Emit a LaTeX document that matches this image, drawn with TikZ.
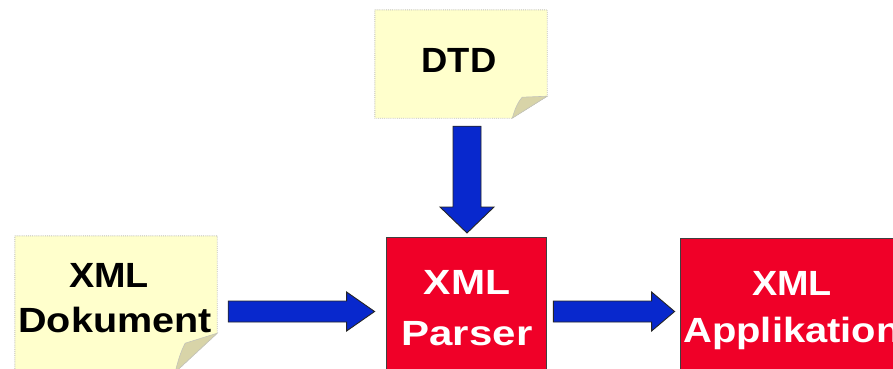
\documentclass[tikz,border=0pt]{standalone}
\usepackage{fontspec}
\setmainfont{Liberation Sans}
\usetikzlibrary{calc}

\definecolor{notefill}{RGB}{255,255,204}
\definecolor{notefold}{RGB}{216,212,168}
\definecolor{noteedge}{RGB}{195,195,185}
\definecolor{boxred}{RGB}{240,0,40}
\definecolor{arrowblue}{RGB}{8,40,205}

\tikzset{
  notebody/.style={fill=notefill, draw=noteedge, densely dotted, line width=0.9pt},
  notecurl/.style={fill=notefold, draw=noteedge, line width=0.6pt},
  redbox/.style={rectangle, fill=boxred, draw=black!75, line width=0.8pt, inner sep=0pt},
  blockarrowstyle/.style={fill=arrowblue, draw=black!85, line width=0.9pt, line join=miter},
  lbl/.style={inner sep=0pt, font=\fontsize{35}{40}\selectfont\bfseries},
  lblw/.style={lbl, text=white},
  anchorbox/.style={rectangle, inner sep=0pt, draw=none}
}

% block arrow: start, tip, half shaft width, half head width, head length
\newcommand{\blockarrow}[5]{%
  \coordinate (ba-h) at ($(#2)!#5!(#1)$);
  \filldraw[blockarrowstyle]
    ($(#1)!#3!90:(#2)$) -- ($(ba-h)!#3!-90:(#1)$) -- ($(ba-h)!#4!-90:(#1)$) -- (#2)
    -- ($(ba-h)!#4!90:(#1)$) -- ($(ba-h)!#3!90:(#1)$) -- ($(#1)!#3!-90:(#2)$) -- cycle;}

\begin{document}
\begin{tikzpicture}[x=1pt, y=-1pt]
\useasboundingbox (0,0) rectangle (893,368);
\clip (0,0) rectangle (893,368);

% note frames (named placeholders)
\node[anchorbox, minimum width=172pt, minimum height=108pt] (dtd) at (461,64) {};
\node[anchorbox, minimum width=202pt, minimum height=136pt] (dok) at (116,304) {};

% DTD note with folded corner
\path[notebody] (dtd.north west) -- (dtd.north east) -- ($(dtd.south east)+(0,-22)$)
  -- ($(dtd.south east)+(-35,0)$) -- (dtd.south west) -- cycle;
\path[notecurl] ($(dtd.south east)+(0,-22)$) -- ($(dtd.south east)+(-25,-21)$)
  .. controls ($(dtd.south east)+(-31,-14)$) and ($(dtd.south east)+(-33,-6)$) .. ($(dtd.south east)+(-35,0)$) -- cycle;

% XML document note with folded corner
\path[notebody] (dok.north west) -- (dok.north east) -- ($(dok.south east)+(0,-39)$)
  -- ($(dok.south east)+(-42,0)$) -- (dok.south west) -- cycle;
\path[notecurl] ($(dok.south east)+(0,-39)$) -- ($(dok.south east)+(-32,-29)$)
  .. controls ($(dok.south east)+(-37,-20)$) and ($(dok.south east)+(-40,-8)$) .. ($(dok.south east)+(-42,0)$) -- cycle;

% red processing boxes
\node[redbox, minimum width=160pt, minimum height=170pt] (parser) at (466,322) {};
\node[redbox, minimum width=230pt, minimum height=170pt] (app) at (795,323) {};

% texts
\node[lbl, anchor=base] (tdtd) at (459,72) {\scalebox{1.04}[1]{DTD}};
\node[lbl, anchor=base] (tdok1) at (109,287) {\scalebox{1.08}[1]{XML}};
\node[lbl, anchor=base] (tdok2) at (115,332) {\scalebox{1.13}[1]{Dokument}};
\node[lblw, anchor=base] (tpar1) at (467,294) {\scalebox{1.17}[1]{XML}};
\node[lblw, anchor=base] (tpar2) at (467,345) {\scalebox{1.2}[1]{Parser}};
\node[lblw, anchor=base] (tapp1) at (792,295) {\scalebox{1.08}[1]{XML}};
\node[lblw, anchor=base] (tapp2) at (792,342) {\scalebox{1.14}[1]{Applikation}};

% connectors
\coordinate (a1s) at ($(dok.east |- 0,311.5)+(11,0)$);
\coordinate (a1e) at ($(parser.west |- 0,311.5)+(-11,0)$);
\coordinate (a2s) at ($(parser.east |- 0,311.5)+(7,0)$);
\coordinate (a2e) at ($(app.west |- 0,311.5)+(-5,0)$);
\coordinate (a3s) at ($(dtd.south)+(6,8)$);
\coordinate (a3e) at ($(parser.north |- 0,233)+(1,0)$);

\blockarrow{a1s}{a1e}{10.5pt}{19.5pt}{28pt}
\blockarrow{a2s}{a2e}{10.5pt}{19.5pt}{23pt}
\blockarrow{a3s}{a3e}{14pt}{27pt}{26pt}
\end{tikzpicture}
\end{document}
